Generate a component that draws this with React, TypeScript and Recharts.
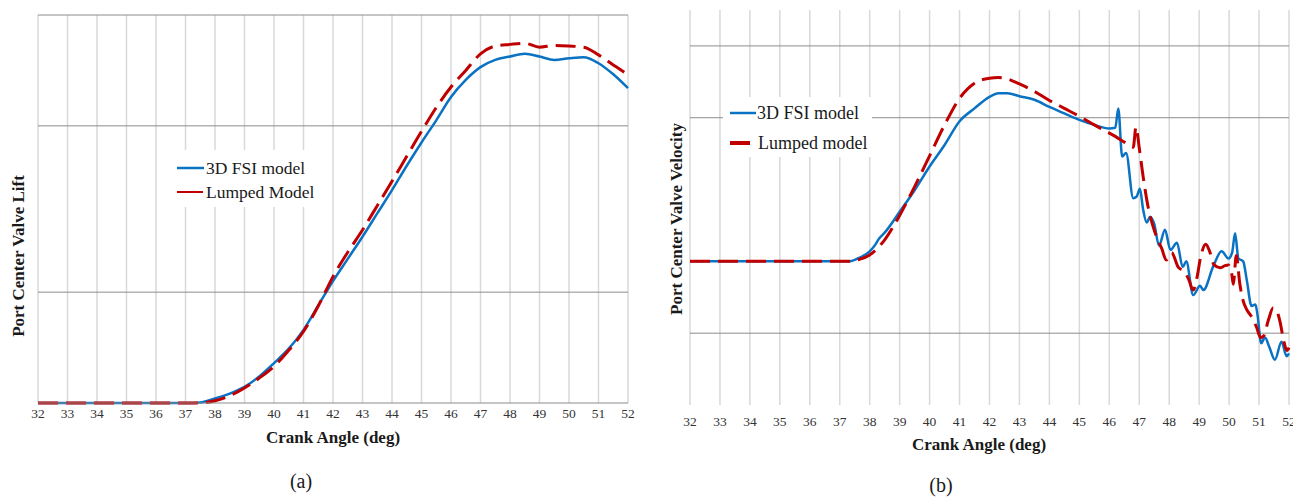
import React from 'react';
import { LineChart, Line, XAxis, YAxis, CartesianGrid } from 'recharts';

// ---------- shared ----------
const crankTicks = [32, 33, 34, 35, 36, 37, 38, 39, 40, 41, 42, 43, 44, 45, 46, 47, 48, 49, 50, 51, 52];

// ---------- (a) Port Center Valve Lift ----------
const liftAngles = [32, 33, 34, 35, 36, 37, 37.5, 38, 38.5, 39, 39.5, 40, 40.5, 41, 41.5, 42, 42.5, 43, 43.5, 44, 44.5, 45, 45.5, 46, 46.5, 47, 47.5, 48, 48.5, 49, 49.5, 50, 50.5, 51, 51.5, 52];
const liftFsi = [0, 0, 0, 0, 0, 0, 0.01, 0.08, 0.17, 0.29, 0.48, 0.72, 0.98, 1.32, 1.76, 2.2, 2.6, 3.0, 3.42, 3.84, 4.28, 4.7, 5.1, 5.52, 5.83, 6.06, 6.19, 6.25, 6.3, 6.25, 6.19, 6.22, 6.24, 6.13, 5.93, 5.68];
const liftLumped = [0, 0, 0, 0, 0, 0, 0.0, 0.04, 0.13, 0.27, 0.45, 0.66, 0.95, 1.29, 1.75, 2.28, 2.72, 3.12, 3.56, 4.0, 4.45, 4.9, 5.33, 5.7, 6.0, 6.3, 6.44, 6.47, 6.49, 6.42, 6.45, 6.44, 6.42, 6.28, 6.1, 5.92];
const liftGridValues = [2, 5, 7];

// ---------- (b) Port Center Valve Velocity ----------
const velFsiAngles = [32, 37.3, 37.6, 38, 38.2, 38.3, 38.5, 39, 39.5, 40, 40.5, 41, 41.5, 42, 42.3, 42.6, 43, 43.5, 44, 44.5, 45, 45.5, 46, 46.2, 46.3, 46.43, 46.56, 46.8, 46.91, 47.02, 47.13, 47.25, 47.36, 47.5, 47.66, 47.86, 48.04, 48.26, 48.45, 48.57, 48.8, 49.03, 49.14, 49.47, 49.75, 49.98, 50.1, 50.2, 50.31, 50.47, 50.59, 50.75, 50.88, 50.95, 51.07, 51.2, 51.34, 51.53, 51.75, 51.92, 52];
const velFsi = [0, 0, 0.04, 0.14, 0.24, 0.31, 0.4, 0.69, 0.99, 1.32, 1.62, 1.95, 2.13, 2.29, 2.34, 2.34, 2.3, 2.25, 2.15, 2.06, 1.97, 1.9, 1.85, 1.86, 2.13, 1.46, 1.51, 0.88, 0.9, 1.01, 0.72, 0.54, 0.62, 0.52, 0.22, 0.44, 0.16, 0.26, -0.08, 0.0, -0.47, -0.34, -0.4, -0.07, 0.14, 0.04, 0.12, 0.39, 0.04, 0.0, -0.26, -0.62, -0.6, -0.75, -1.14, -1.06, -1.19, -1.37, -1.12, -1.32, -1.28];
const velLumpedAngles = [32, 37.3, 37.6, 38, 38.5, 39, 39.5, 40, 40.5, 41, 41.5, 42, 42.3, 42.6, 43, 43.4, 44, 44.5, 45, 45.5, 45.9, 46.2, 46.5, 46.8, 46.89, 47.0, 47.13, 47.3, 47.45, 47.6, 47.75, 47.9, 48.08, 48.3, 48.5, 48.65, 48.8, 48.92, 49.05, 49.22, 49.35, 49.5, 49.7, 49.86, 49.97, 50.08, 50.14, 50.24, 50.36, 50.47, 50.6, 50.75, 50.92, 51.05, 51.15, 51.31, 51.47, 51.58, 51.7, 51.82, 51.93, 52];
const velLumped = [0, 0, 0.02, 0.09, 0.3, 0.64, 1.04, 1.47, 1.9, 2.27, 2.48, 2.55, 2.56, 2.54, 2.47, 2.39, 2.24, 2.13, 2.02, 1.9, 1.81, 1.74, 1.66, 1.59, 1.87, 1.58, 1.18, 0.75, 0.5, 0.32, 0.18, 0.02, 0.12, -0.08, -0.14, -0.25, -0.4, -0.24, 0.06, 0.24, 0.14, -0.05, -0.09, -0.06, -0.05, -0.15, -0.32, 0.08, -0.32, -0.55, -0.68, -0.77, -0.92, -1.06, -1.04, -0.82, -0.65, -0.68, -0.84, -1.1, -1.24, -1.2];
const velGridValues = [-1, 2, 3];

const liftData = liftAngles.map((a, i) => ({ angle: a, fsi: liftFsi[i], lumped: liftLumped[i] }));
const velFsiData = velFsiAngles.map((a, i) => ({ angle: a, fsi: velFsi[i] }));
const velLumpedData = velLumpedAngles.map((a, i) => ({ angle: a, lumped: velLumped[i] }));

const BLUE = '#0a72c2';
const RED = '#c00000';
const FONT = '"Liberation Serif", "Times New Roman", serif';

const tickStyle = { fontFamily: FONT, fontSize: 13.5, fill: '#333333' };

function Abs(props: { x: number; y: number; rotate?: boolean; size: number; bold?: boolean; children: React.ReactNode }) {
  const { x, y, rotate, size, bold, children } = props;
  return (
    <div
      style={{
        position: 'absolute',
        left: x,
        top: y,
        transform: `translate(-50%, -50%)${rotate ? ' rotate(-90deg)' : ''}`,
        fontFamily: FONT,
        fontSize: size,
        fontWeight: bold ? 'bold' : 'normal',
        color: '#1a1a1a',
        whiteSpace: 'nowrap',
        lineHeight: 1,
      }}
    >
      {children}
    </div>
  );
}

export default function App() {
  return (
    <div style={{ position: 'absolute', left: 0, top: 0, width: 1293, height: 497, background: '#ffffff', overflow: 'hidden' }}>
      {/* ---------- Chart (a) ---------- */}
      <div style={{ position: 'absolute', left: 0, top: 0 }}>
        <LineChart width={640} height={460} data={liftData} margin={{ top: 15, right: 12, bottom: 27, left: 38 }}>
          <CartesianGrid horizontal={false} vertical={true} stroke="#d9d9d9" strokeWidth={1.5} />
          <CartesianGrid horizontal={true} vertical={false} horizontalValues={liftGridValues} stroke="#8c8c8c" strokeWidth={1} />
          <XAxis
            dataKey="angle"
            type="number"
            domain={[32, 52]}
            ticks={crankTicks}
            interval={0}
            height={30}
            tickLine={false}
            tickSize={3}
            axisLine={{ stroke: '#8c8c8c', strokeWidth: 1.2 }}
            tick={tickStyle}
          />
          <YAxis hide domain={[0, 7]} ticks={liftGridValues} type="number" />
          <Line type="monotone" dataKey="fsi" stroke={BLUE} strokeWidth={2.5} dot={false} isAnimationActive={false} />
          <Line type="monotone" dataKey="lumped" stroke={RED} strokeWidth={3} strokeDasharray="20 8" dot={false} isAnimationActive={false} />
        </LineChart>
      </div>

      {/* legend (a) */}
      <div style={{ position: 'absolute', left: 172, top: 150, width: 148, height: 57, background: '#ffffff' }}>
        <svg width={148} height={57} style={{ position: 'absolute', left: 0, top: 0 }}>
          <line x1={5} y1={18} x2={32} y2={18} stroke={BLUE} strokeWidth={2.5} />
          <line x1={5} y1={42} x2={31} y2={42} stroke={RED} strokeWidth={2} />
          <text x={34} y={18} dominantBaseline="central" fontFamily={FONT} fontSize={17.5} fill="#1a1a1a">3D FSI model</text>
          <text x={34} y={42} dominantBaseline="central" fontFamily={FONT} fontSize={17.5} fill="#1a1a1a">Lumped Model</text>
        </svg>
      </div>

      <Abs x={18} y={256} rotate size={17} bold>Port Center Valve Lift</Abs>
      <Abs x={333} y={437} size={17} bold>Crank Angle (deg)</Abs>
      <Abs x={301} y={481} size={20}>(a)</Abs>

      {/* ---------- Chart (b) ---------- */}
      <div style={{ position: 'absolute', left: 650, top: 0 }}>
        <LineChart width={643} height={460} margin={{ top: 10, right: 4, bottom: 25, left: 40 }}>
          <CartesianGrid horizontal={false} vertical={true} stroke="#d9d9d9" strokeWidth={1.5} />
          <CartesianGrid horizontal={true} vertical={false} horizontalValues={velGridValues} stroke="#8c8c8c" strokeWidth={1} />
          <XAxis
            dataKey="angle"
            type="number"
            domain={[32, 52]}
            ticks={crankTicks}
            interval={0}
            height={30}
            tickLine={false}
            tickSize={9}
            axisLine={false}
            tick={tickStyle}
            allowDuplicatedCategory={false}
          />
          <YAxis hide domain={[-2, 3.5]} ticks={velGridValues} type="number" />
          <Line data={velFsiData} type="monotone" dataKey="fsi" stroke={BLUE} strokeWidth={2.5} dot={false} isAnimationActive={false} />
          <Line data={velLumpedData} type="monotone" dataKey="lumped" stroke={RED} strokeWidth={3} strokeDasharray="20 8" dot={false} isAnimationActive={false} />
        </LineChart>
      </div>

      {/* legend (b) */}
      <div style={{ position: 'absolute', left: 723, top: 97, width: 149, height: 60, background: '#ffffff' }}>
        <svg width={149} height={60} style={{ position: 'absolute', left: 0, top: 0 }}>
          <line x1={7} y1={16} x2={33} y2={16} stroke={BLUE} strokeWidth={2.5} />
          <line x1={7} y1={46} x2={27} y2={46} stroke={RED} strokeWidth={4} />
          <text x={34} y={16} dominantBaseline="central" fontFamily={FONT} fontSize={18} fill="#1a1a1a">3D FSI model</text>
          <text x={35} y={46} dominantBaseline="central" fontFamily={FONT} fontSize={18} fill="#1a1a1a">Lumped model</text>
        </svg>
      </div>

      <Abs x={676} y={219} rotate size={17} bold>Port Center Valve Velocity</Abs>
      <Abs x={979} y={444} size={17} bold>Crank Angle (deg)</Abs>
      <Abs x={941} y={485} size={20}>(b)</Abs>
    </div>
  );
}
